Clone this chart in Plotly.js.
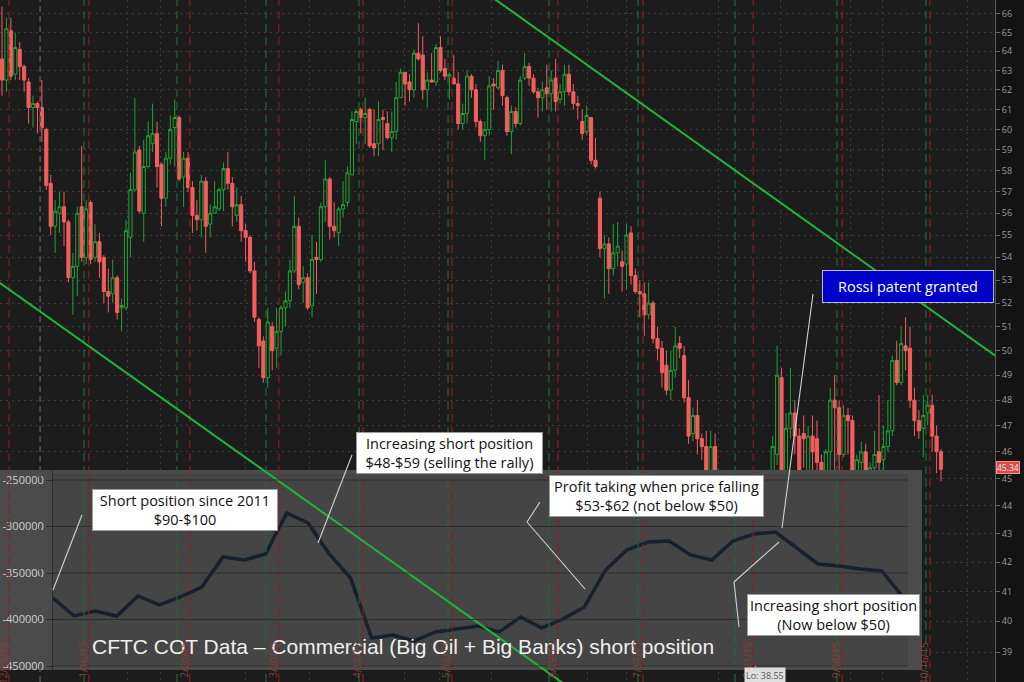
<!DOCTYPE html>
<html><head><meta charset="utf-8">
<script src="https://cdn.plot.ly/plotly-3.0.1.min.js"></script>
<style>html,body{margin:0;padding:0;background:#131313;}#chart{width:1024px;height:682px;}</style>
</head><body><div id="chart"></div>
<script>
// ---------- price candles (daily) ----------
const openP = [
63.6,62.5,65.1,62.8,64.1,63.2,62.4,61.1,61.3,61.1,
60.0,57.4,55.4,56.0,56.3,55.6,53.1,53.6,56.3,54.0,
56.5,54.0,54.7,54.0,52.5,52.4,53.1,51.8,51.8,54.9,
57.1,59.0,56.0,58.2,59.3,59.8,58.3,56.7,58.6,60.1,
60.6,57.7,58.6,57.2,55.9,55.7,57.5,55.5,56.0,56.2,
57.1,58.1,57.4,55.9,56.4,55.2,54.9,53.4,51.3,50.4,
48.9,51.0,50.1,50.8,51.8,52.1,53.4,55.4,52.9,53.1,
51.9,54.0,53.9,56.3,57.6,55.4,55.1,56.2,56.5,57.8,
60.4,61.0,60.6,61.0,59.3,59.3,60.6,60.3,59.6,59.9,
61.6,62.9,62.4,62.0,63.9,63.8,62.0,62.5,62.4,64.2,
63.1,62.7,62.6,62.3,60.3,60.8,62.7,62.0,60.4,59.7,
60.0,62.3,62.1,63.0,61.6,59.9,60.9,60.3,62.6,63.2,
62.6,61.9,61.6,62.1,61.8,62.6,61.5,61.9,62.8,61.9,
61.3,60.4,59.9,60.6,58.5,56.7,54.4,54.6,53.5,54.2,
53.8,53.7,55.1,53.2,52.5,52.4,51.5,52.0,50.5,50.1,
49.4,48.4,49.2,50.3,49.8,48.1,46.7,47.4,46.5,46.2,
45.0,46.2,45.0,44.0,43.6,43.3,43.0,43.4,42.0,41.6,
40.8,39.0,39.6,39.9,43.0,45.9,48.9,45.2,46.9,47.5,
46.6,46.7,45.0,46.6,46.5,45.6,44.9,46.0,48.0,47.7,
45.9,47.4,47.2,45.2,45.6,46.0,45.1,45.4,46.0,45.7,
46.2,46.8,49.6,48.7,50.2,50.1,48.0,47.2,46.9,47.5,
47.8,46.6,46.0];
const highP = [
66.4,65.8,65.8,65.0,64.5,63.3,62.6,61.7,61.4,62.5,
60.1,57.8,56.6,57.0,57.0,55.7,54.2,56.3,59.2,56.6,
56.6,55.5,55.1,54.1,53.5,53.9,53.2,52.2,55.7,57.9,
61.6,59.2,59.5,60.4,61.3,60.4,58.4,58.9,60.7,61.5,
60.7,58.9,58.9,57.5,56.6,57.8,57.7,56.4,57.5,57.2,
58.4,58.9,57.7,57.2,56.8,55.5,55.0,53.8,51.4,50.6,
51.8,51.2,51.8,51.9,52.5,53.9,56.8,55.8,53.6,53.3,
55.0,54.7,56.5,58.5,57.7,56.5,56.3,57.5,58.2,60.9,
61.0,61.1,61.6,61.1,61.0,61.4,61.0,60.9,60.9,62.4,
63.1,62.9,62.8,64.1,65.5,64.8,62.9,63.9,64.4,64.8,
63.6,62.9,63.8,62.9,61.3,63.0,62.8,62.3,60.5,60.4,
62.7,62.6,63.5,63.3,61.7,61.2,61.1,62.7,63.9,63.4,
62.8,62.1,62.4,63.3,63.0,63.6,62.3,63.3,63.3,62.3,
61.7,61.0,61.2,60.6,59.6,57.0,55.0,54.9,55.5,55.6,
54.3,55.5,55.4,53.5,53.0,52.9,52.9,52.1,51.0,50.4,
50.0,50.0,51.0,50.6,50.2,48.8,47.7,48.0,46.7,46.8,
46.8,46.7,45.3,44.3,44.2,43.6,44.1,43.5,42.9,41.9,
41.2,40.2,40.8,44.0,46.6,50.2,49.3,47.5,49.3,48.0,
46.9,47.4,47.0,47.4,47.2,45.9,46.1,48.5,49.0,48.0,
47.8,47.7,47.4,45.9,46.4,46.3,45.6,46.8,48.2,47.0,
48.0,49.8,50.4,51.0,51.4,51.0,48.5,47.6,48.2,48.2,
48.2,47.0,46.1];
const lowP = [
61.7,61.9,62.5,62.5,62.5,61.9,60.3,60.1,59.8,59.4,
57.1,55.0,54.2,55.1,54.5,52.9,51.5,52.3,53.8,53.7,
53.7,53.8,53.1,52.0,51.6,52.0,51.3,50.8,51.7,54.0,
57.0,56.0,54.7,58.1,58.9,57.2,55.4,56.3,58.3,58.2,
57.5,56.3,57.0,55.1,55.2,54.9,54.2,54.9,56.0,56.1,
56.1,57.1,55.4,55.6,54.7,53.8,53.3,51.2,49.3,48.7,
48.5,49.2,49.3,49.8,51.0,51.8,53.3,52.6,52.0,51.7,
51.4,52.4,53.8,55.6,54.8,54.9,54.5,55.8,56.3,57.8,
59.3,59.8,59.3,59.1,58.7,58.7,59.0,59.5,58.9,59.5,
61.6,61.2,61.4,61.6,63.5,61.5,61.1,62.4,62.2,62.9,
62.5,61.5,62.3,60.0,60.0,60.3,61.6,60.1,59.4,58.5,
59.7,61.0,62.0,61.2,59.7,58.8,60.1,60.2,62.5,62.2,
61.8,60.6,60.9,61.0,60.9,60.9,61.3,61.2,61.7,61.0,
60.5,59.5,59.7,58.3,58.1,54.0,52.2,52.4,53.2,53.6,
52.5,52.6,52.8,52.4,51.4,50.6,51.3,50.3,49.6,48.5,
48.2,48.0,48.9,49.7,47.9,46.3,46.4,45.9,45.7,44.6,
44.0,44.7,43.9,43.1,42.8,42.6,42.7,41.6,41.2,40.5,
38.55,38.8,39.4,39.6,42.8,45.5,44.8,44.6,46.5,45.9,
44.7,45.4,44.7,44.2,45.0,44.1,44.6,45.1,45.1,45.3,
45.8,45.9,45.0,44.4,45.2,45.0,44.9,45.0,44.9,44.3,
46.0,46.6,48.6,48.6,49.2,47.7,46.6,46.5,45.8,47.0,
46.0,45.2,44.9];
const closeP = [
62.5,65.2,62.7,64.2,63.2,62.5,61.1,61.3,61.1,60.1,
57.3,55.4,56.1,56.3,55.6,53.1,53.6,56.0,54.0,56.2,
53.9,54.7,53.8,52.5,52.3,53.1,51.6,51.9,55.2,57.1,
58.9,56.1,58.2,59.7,59.8,58.2,56.7,58.6,60.0,60.6,
57.6,58.6,57.2,55.9,55.7,57.5,55.4,56.0,56.3,57.1,
58.1,57.4,56.3,56.4,55.2,54.9,53.4,51.4,50.2,48.9,
51.2,50.0,50.8,51.8,52.1,53.4,55.4,52.8,53.1,51.8,
53.9,53.9,56.3,57.6,55.4,55.2,56.2,56.4,57.9,60.5,
60.9,60.6,60.8,59.2,59.1,60.5,60.5,59.6,59.9,61.6,
62.9,62.3,62.0,63.9,63.6,62.0,62.5,62.4,64.2,63.0,
62.7,62.8,62.3,60.3,60.8,62.7,62.0,60.4,59.7,60.0,
62.2,62.2,63.0,61.7,59.9,60.9,60.3,62.5,63.2,62.6,
61.9,61.6,62.0,61.8,62.5,61.4,61.9,62.8,61.9,61.3,
61.2,59.8,60.7,58.5,58.2,54.4,54.6,53.5,54.2,54.5,
53.6,55.0,53.2,52.5,52.4,51.5,52.0,50.5,50.1,49.1,
48.4,49.2,50.2,50.1,48.1,46.6,47.4,46.5,46.2,45.0,
46.2,45.0,44.1,43.6,43.2,42.9,43.8,41.8,41.6,40.9,
38.9,39.7,40.3,43.6,46.2,49.0,45.2,46.9,47.5,46.6,
45.2,46.5,46.6,46.0,45.6,45.0,46.0,48.0,47.7,45.9,
47.4,47.2,45.2,45.7,46.0,45.2,45.4,45.9,45.6,46.2,
46.8,49.6,48.7,50.3,50.0,48.0,47.2,46.8,47.4,47.8,
46.6,46.0,45.34];

// ---------- CFTC COT commercial net position (weekly) ----------
const cotPosition = [-376900,-396200,-390900,-396200,-374700,-384400,-375800,-365100,-332800,-336000,
-329600,-285500,-296200,-329600,-355400,-419900,-416700,-423100,-413400,-410200,
-407000,-413400,-397300,-409100,-399500,-386600,-346800,-325300,-316700,-315600,
-330600,-336000,-315600,-308100,-305900,-323100,-340300,-342500,-345700,-347800,-375800];
const cotTicks = [-250000,-300000,-350000,-400000,-450000];
const cotTickText = ['-250000','-300000','-350000','-400000','-450000'];

// ---------- axis ticks & markers (in trading-day index units) ----------
const priceTicks = [38,39,40,41,42,43,44,45,46,47,48,49,50,51,52,53,54,55,56,57,58,59,60,61,62,63,64,65,66];
const expiryIdx = [1.6,19.6,42.4,62.5,81.5,101.6,125.5,144.7,169.6,189.7,209.5];
const expiryLabels = ['12/19/14','1/16/15','2/20/15','3/20/15','4/17/15','5/15/15','6/19/15','7/17/15','8/21/15','9/18/15','10/16/15'];
const rollIdx = [18.5,39.5,59.6,80.6,100.7,123.5,143.6,165.5,188.5,208.6];
const yearIdx = 8.6;
const weekGridIdx = [28.4,35.7,54.9,69.5,90.8,98.7,110.6,132.3,141.1,161.7,175.7,191.5,198.9,217.9];
const trendUpper = [[107.9,67.4],[226.5,49.5]];
const trendLower = [[-5,53.5],[129.4,37.74]];
const lastPrice = 45.34, lowPrice = 38.55, lowIdx = 170;

// ---------- layout helpers ----------
const PW = 995, PH = 682;
const px = v => v / PW, py = v => 1 - v / PH;
const X2R = [-2.494, 40.894], Y2R = [-454301, -239247];
const FRAME = {x0: -0.047, x1: 40.235, y0: -450000, y1: -243548};
const FONT = 'Open Sans, sans-serif';

const candleX = openP.map((_, i) => i);

const traces = [
  {type:'candlestick', x:candleX, open:openP, high:highP, low:lowP, close:closeP,
   increasing:{line:{color:'#1fa336', width:1}, fillcolor:'rgba(0,0,0,0)'},
   decreasing:{line:{color:'#f25e5e', width:1}, fillcolor:'#f25e5e'},
   whiskerwidth:0, hoverinfo:'skip', xaxis:'x', yaxis:'y', showlegend:false},
  {type:'scatter', mode:'lines', x:[X2R[0],X2R[1],X2R[1],X2R[0],X2R[0]], y:[Y2R[0],Y2R[0],Y2R[1],Y2R[1],Y2R[0]],
   fill:'toself', fillcolor:'rgba(94,94,94,0.72)', line:{width:0}, hoverinfo:'skip', xaxis:'x2', yaxis:'y2', showlegend:false},
  {type:'scatter', mode:'lines', x:[FRAME.x0,FRAME.x1,FRAME.x1,FRAME.x0,FRAME.x0], y:[FRAME.y0,FRAME.y0,FRAME.y1,FRAME.y1,FRAME.y0],
   fill:'toself', fillcolor:'rgba(0,0,0,0.07)', line:{width:0}, hoverinfo:'skip', xaxis:'x2', yaxis:'y2', showlegend:false},
  {type:'scatter', mode:'lines', y:cotPosition, line:{color:'#16212d', width:3.5},
   hoverinfo:'skip', xaxis:'x2', yaxis:'y2', showlegend:false}
];

const shapes = [];
expiryIdx.forEach(x => shapes.push({type:'line', xref:'x', yref:'paper', x0:x, x1:x, y0:0, y1:1, layer:'above',
  line:{color:'rgba(150,28,28,0.9)', width:1.2, dash:'8px,5px'}}));
rollIdx.forEach(x => shapes.push({type:'line', xref:'x', yref:'paper', x0:x, x1:x, y0:0, y1:1, layer:'above',
  line:{color:'rgba(30,110,55,0.9)', width:1.2, dash:'8px,5px'}}));
shapes.push({type:'line', xref:'x', yref:'paper', x0:yearIdx, x1:yearIdx, y0:0, y1:1, layer:'above',
  line:{color:'#4a4a4a', width:1.8, dash:'6px,4px'}});
[trendUpper, trendLower].forEach(t => shapes.push({type:'line', xref:'x', yref:'y', x0:t[0][0], y0:t[0][1], x1:t[1][0], y1:t[1][1],
  layer:'above', line:{color:'#1fb43c', width:2}}));
cotTicks.forEach(v => shapes.push({type:'line', xref:'x2', yref:'y2', x0:FRAME.x0, x1:FRAME.x1, y0:v, y1:v, layer:'above',
  line:{color:'rgba(40,40,40,0.8)', width:1}}));
const callouts = [
  [[53,590],[82,515]],
  [[318,543],[352,455]],
  [[540,502],[527,522],[585,589]],
  [[739,627],[734,582],[779,542]],
  [[813,294],[782,528]]
];
callouts.forEach(c => { for (let i = 0; i < c.length - 1; i++) shapes.push({type:'line', xref:'paper', yref:'paper',
  x0:px(c[i][0]), y0:py(c[i][1]), x1:px(c[i+1][0]), y1:py(c[i+1][1]), layer:'above', line:{color:'#d2d2d2', width:1.1}}); });

const annotations = [];
function box(text, cx, cy, w, extra) {
  annotations.push(Object.assign({xref:'paper', yref:'paper', x:px(cx), y:py(cy), xanchor:'center', yanchor:'middle',
    text:text, showarrow:false, width:w, align:'center', valign:'middle',
    bgcolor:'#ffffff', bordercolor:'#9a9a9a', borderwidth:1, borderpad:1,
    font:{family:FONT, size:14.5, color:'#111111'}}, extra || {}));
}
box('Short position since 2011<br>$90-$100', 185, 510, 182);
box('Increasing short position<br>$48-$59 (selling the rally)', 449.5, 453, 183);
box('Profit taking when price falling<br>$53-$62 (not below $50)', 656, 495.5, 211);
box('Increasing short position<br>(Now below $50)', 833.5, 615, 169);
box('Rossi patent granted', 908, 286.5, 166, {height:27, borderpad:2, bgcolor:'#0000c8', bordercolor:'#b8b8d8',
  font:{family:FONT, size:14.5, color:'#ffffff'}});
annotations.push({xref:'paper', yref:'paper', x:px(90), y:py(646), xanchor:'left', yanchor:'middle', showarrow:false,
  text:'CFTC COT Data \u2013 Commercial (Big Oil + Big Banks) short position',
  font:{family:'Liberation Sans, Arial, sans-serif', size:21, color:'#efefef'}});
expiryLabels.forEach((t, i) => annotations.push({xref:'x', yref:'paper', x:expiryIdx[i], xshift:-6, y:py(640), yanchor:'top',
  textangle:-90, text:t, showarrow:false, font:{family:FONT, size:10, color:'#8e3a3a'}}));
annotations.push({xref:'paper', yref:'y', x:1, xanchor:'left', xshift:1, y:Math.log10(lastPrice), yanchor:'middle', yshift:2,
  text:lastPrice.toFixed(2), showarrow:false, bgcolor:'#d84a46', bordercolor:'#f09090', borderwidth:1, borderpad:0,
  font:{family:FONT, size:8.5, color:'#ffe8e8'}});
annotations.push({xref:'x', yref:'y', x:lowIdx, y:Math.log10(lowPrice), text:'Lo: ' + lowPrice.toFixed(2),
  showarrow:true, arrowhead:0, arrowwidth:1, arrowcolor:'#bbbbbb', ax:10, ay:9, bgcolor:'#dedede', borderpad:1,
  font:{family:FONT, size:9, color:'#555555'}});

const layout = {
  width:1024, height:682, margin:{l:0, r:29, t:0, b:0},
  paper_bgcolor:'#131313', plot_bgcolor:'#1c1c1c', showlegend:false,
  boxgap:0.3, boxgroupgap:0,
  xaxis:{range:[-0.45, 224.19], showticklabels:false, ticks:'', tickmode:'array', tickvals:weekGridIdx,
    showgrid:true, gridcolor:'#3e3e3e', griddash:'2px,4px', zeroline:false, showline:false,
    rangeslider:{visible:false}, fixedrange:true},
  yaxis:{type:'log', side:'right', range:[1.58032, 1.82455], tickmode:'array', tickvals:priceTicks,
    ticktext:priceTicks.map(String), tickfont:{family:FONT, size:9, color:'#9a9a9a'}, ticks:'outside', ticklen:4,
    tickcolor:'#666666', showline:true, linecolor:'#5a5a5a', showgrid:true, gridcolor:'#3e3e3e', griddash:'2px,4px',
    zeroline:false, fixedrange:true},
  xaxis2:{domain:[0, 922/995], range:X2R, anchor:'y2', visible:false, fixedrange:true},
  yaxis2:{domain:[py(670), py(470)], range:Y2R, anchor:'free', position:px(52), side:'left', tickmode:'array',
    tickvals:cotTicks, ticktext:cotTickText, tickfont:{family:FONT, size:11, color:'#d0d0d0'}, ticks:'outside',
    ticklen:6, tickcolor:'#2e2e2e', showline:true, linecolor:'#2e2e2e', showgrid:false, zeroline:false, fixedrange:true},
  shapes:shapes, annotations:annotations
};

Plotly.newPlot('chart', traces, layout, {staticPlot:true, displayModeBar:false});
</script></body></html>
